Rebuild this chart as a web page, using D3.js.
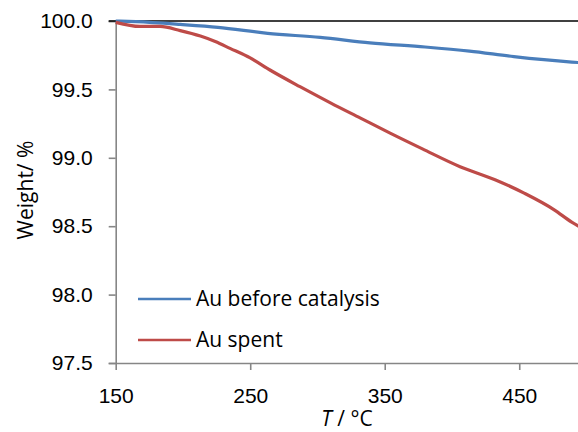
<!DOCTYPE html>
<html>
<head>
<meta charset="utf-8">
<script src="https://cdn.jsdelivr.net/npm/d3@7"></script>
<style>
  body { margin: 0; background: #fff; }
  svg { display: block; font-family: "Open Sans", Lato, sans-serif; }
</style>
</head>
<body>
<svg id="chart" width="578" height="432"></svg>
<script>
// values
const tempBefore = [150, 165, 198, 226, 263, 302, 339, 380, 413, 446, 489, 496]
const weightBefore = [100.0, 99.995, 99.975, 99.954, 99.91, 99.88, 99.84, 99.81, 99.78, 99.74, 99.70, 99.695]

const tempSpent = [150, 168, 183, 198, 213, 224, 235, 250, 265, 287, 310, 332, 354, 378, 406, 432, 454, 476, 489, 496]
const weightSpent = [99.99, 99.96, 99.96, 99.93, 99.89, 99.85, 99.80, 99.73, 99.64, 99.52, 99.40, 99.29, 99.18, 99.065, 98.935, 98.84, 98.74, 98.62, 98.53, 98.49]

const xTicks = [150, 250, 350, 450]
const yTicks = [97.5, 98.0, 98.5, 99.0, 99.5, 100.0]
const seriesNames = ["Au before catalysis", "Au spent"]
const seriesColors = ["#4a7ebb", "#be4b48"]

const svg = d3.select("#chart")

const x = d3.scaleLinear().domain([150, 500]).range([115.7, 586.5])
const y = d3.scaleLinear().domain([97.5, 100]).range([363, 21])

const axisColor = "#868686"
const fontSize = 21

// y axis
const yAxis = svg
  .append("g")
  .attr("transform", "translate(" + x(150) + ",0)")
  .call(d3.axisLeft(y).tickValues(yTicks).tickFormat(d3.format(".1f")).tickSize(7).tickPadding(16))
yAxis.select(".domain").attr("stroke", axisColor).attr("stroke-width", 1.6)
yAxis.selectAll(".tick line").attr("stroke", axisColor).attr("stroke-width", 1.6)
yAxis.selectAll(".tick text").attr("font-size", fontSize).attr("fill", "#000")

// x axis
const xAxis = svg
  .append("g")
  .attr("transform", "translate(0," + y(97.5) + ")")
  .call(d3.axisBottom(x).tickValues(xTicks).tickSize(7).tickSizeOuter(0).tickPadding(18))
xAxis.select(".domain").attr("stroke", axisColor).attr("stroke-width", 1.6)
xAxis.selectAll(".tick line").attr("stroke", axisColor).attr("stroke-width", 1.6)
xAxis.selectAll(".tick text").attr("font-size", fontSize).attr("fill", "#000")

// black line at 100 %
svg
  .append("line")
  .attr("x1", x(150) - 7)
  .attr("x2", x(500))
  .attr("y1", y(100))
  .attr("y2", y(100))
  .attr("stroke", "#000")
  .attr("stroke-width", 1.6)

const line = d3
  .line()
  .curve(d3.curveMonotoneX)
  .x((d) => x(d[0]))
  .y((d) => y(d[1]))

const series = [
  d3.zip(tempBefore, weightBefore),
  d3.zip(tempSpent, weightSpent),
]

svg
  .append("g")
  .selectAll("path")
  .data(series)
  .enter()
  .append("path")
  .attr("d", line)
  .attr("fill", "none")
  .attr("stroke", (d, i) => seriesColors[i])
  .attr("stroke-width", 3.2)
  .attr("stroke-linejoin", "round")

/*
  Legend
*/
const legend = svg
  .append("g")
  .selectAll("g")
  .data(seriesNames)
  .enter()
  .append("g")
  .attr("transform", (d, i) => "translate(138," + (299 + i * 41) + ")")

legend
  .append("line")
  .attr("x1", 0)
  .attr("x2", 53)
  .attr("stroke", (d, i) => seriesColors[i])
  .attr("stroke-width", 2.6)

legend
  .append("text")
  .attr("x", 58)
  .attr("y", 7)
  .attr("font-size", fontSize)
  .text((d) => d)

// axis titles
const xTitle = svg
  .append("text")
  .attr("x", 347)
  .attr("y", 426)
  .attr("text-anchor", "middle")
  .attr("font-size", fontSize)
xTitle.append("tspan").attr("font-style", "italic").text("T")
xTitle.append("tspan").text(" / °C")

svg
  .append("text")
  .attr("transform", "translate(33,190) rotate(-90)")
  .attr("text-anchor", "middle")
  .attr("font-size", fontSize)
  .text("Weight/ %")
</script>
</body>
</html>
